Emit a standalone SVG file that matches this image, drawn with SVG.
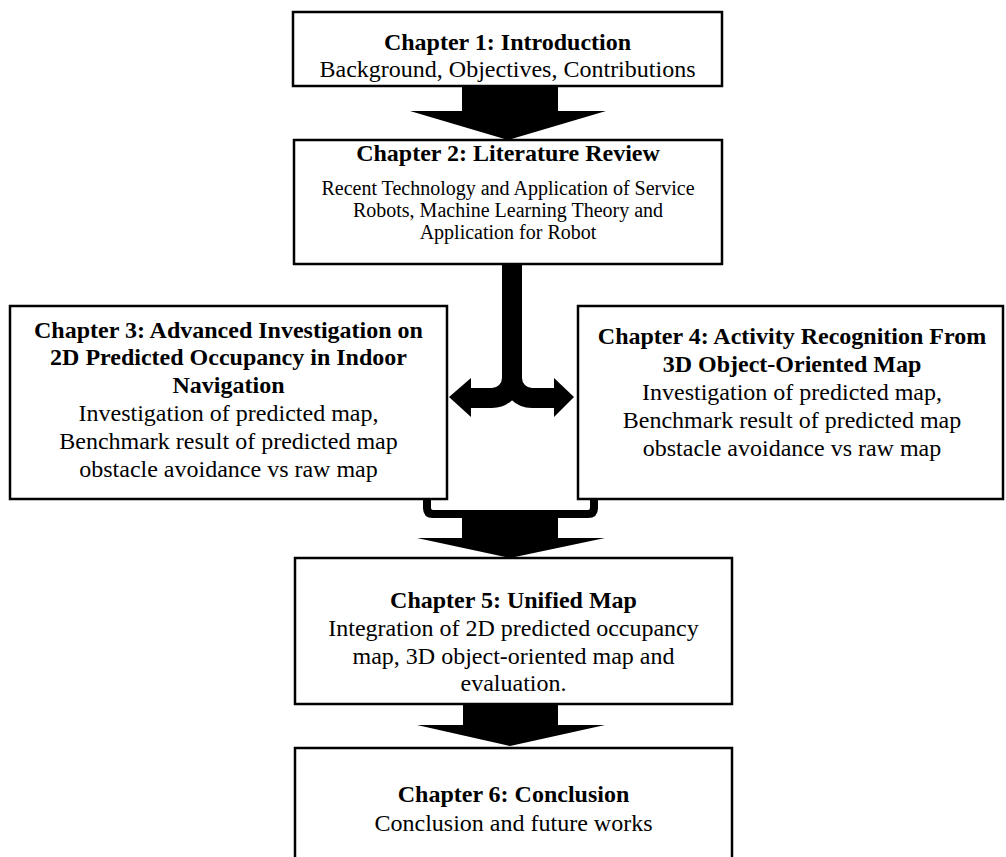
<svg xmlns="http://www.w3.org/2000/svg" width="1006" height="857" viewBox="0 0 1006 857">
  <style>
    .box { fill: #ffffff; stroke: #000000; stroke-width: 2.5; }
    .t { font-family: "Liberation Serif", "Times New Roman", serif; font-size: 24px; fill: #000000; text-anchor: middle; }
    .b { font-weight: bold; }
    .s { font-size: 20px; }
    .arm { fill: none; stroke: #000000; stroke-width: 20; }
    .bracket { fill: none; stroke: #000000; stroke-width: 8; }
    .solid { fill: #000000; stroke: none; }
  </style>
  <rect x="0" y="0" width="1006" height="857" fill="#ffffff"/>

  <!-- block arrows and the split / merge connectors -->
  <g id="connectors">
    <!-- Chapter 1 to Chapter 2 -->
    <polygon class="solid" points="462,86 558,86 558,111 606,111 508,140 410,111 462,111"/>
    <!-- Chapter 2 splits to Chapters 3 and 4 -->
    <path class="arm" d="M512,264 V378 A20,20 0 0 1 492,398 H469"/>
    <path class="arm" d="M512,264 V378 A20,20 0 0 0 532,398 H556"/>
    <polygon class="solid" points="471,378 449,397 471,417"/>
    <polygon class="solid" points="554,378 574,397 554,417"/>
    <!-- Chapters 3 and 4 merge into Chapter 5 -->
    <path class="bracket" d="M427,499 V508 Q427,514 433,514 H588 Q594,514 594,508 V499"/>
    <polygon class="solid" points="462,510 558,510 558,538 605,538 510,558 417,538 462,538"/>
    <!-- Chapter 5 to Chapter 6 -->
    <polygon class="solid" points="463,704 558,704 558,725 605,725 510,746 417,725 463,725"/>
  </g>

  <g id="chapter1">
    <rect class="box" x="293" y="12" width="429" height="74"/>
    <text class="t b" x="507.5" y="50">Chapter 1: Introduction</text>
    <text class="t" x="507.5" y="77">Background, Objectives, Contributions</text>
  </g>

  <g id="chapter2">
    <rect class="box" x="294" y="140" width="428" height="124"/>
    <text class="t b" x="508" y="161">Chapter 2: Literature Review</text>
    <text class="t s" x="508" y="195">Recent Technology and Application of Service</text>
    <text class="t s" x="508" y="217">Robots, Machine Learning Theory and</text>
    <text class="t s" x="508" y="239">Application for Robot</text>
  </g>

  <g id="chapter3">
    <rect class="box" x="10" y="306" width="437" height="193"/>
    <text class="t b" x="228.5" y="338">Chapter 3: Advanced Investigation on</text>
    <text class="t b" x="228.5" y="365">2D Predicted Occupancy in Indoor</text>
    <text class="t b" x="228.5" y="393">Navigation</text>
    <text class="t" x="228.5" y="421">Investigation of predicted map,</text>
    <text class="t" x="228.5" y="449">Benchmark result of predicted map</text>
    <text class="t" x="228.5" y="477">obstacle avoidance vs raw map</text>
  </g>

  <g id="chapter4">
    <rect class="box" x="578" y="306" width="425" height="193"/>
    <text class="t b" x="792" y="344">Chapter 4: Activity Recognition From</text>
    <text class="t b" x="792" y="372">3D Object-Oriented Map</text>
    <text class="t" x="792" y="400">Investigation of predicted map,</text>
    <text class="t" x="792" y="428">Benchmark result of predicted map</text>
    <text class="t" x="792" y="456">obstacle avoidance vs raw map</text>
  </g>

  <g id="chapter5">
    <rect class="box" x="295" y="558" width="437" height="146"/>
    <text class="t b" x="513.5" y="608">Chapter 5: Unified Map</text>
    <text class="t" x="513.5" y="636">Integration of 2D predicted occupancy</text>
    <text class="t" x="513.5" y="664">map, 3D object-oriented map and</text>
    <text class="t" x="513.5" y="691">evaluation.</text>
  </g>

  <g id="chapter6">
    <rect class="box" x="295" y="748" width="437" height="130"/>
    <text class="t b" x="513.5" y="802">Chapter 6: Conclusion</text>
    <text class="t" x="513.5" y="831">Conclusion and future works</text>
  </g>
</svg>
